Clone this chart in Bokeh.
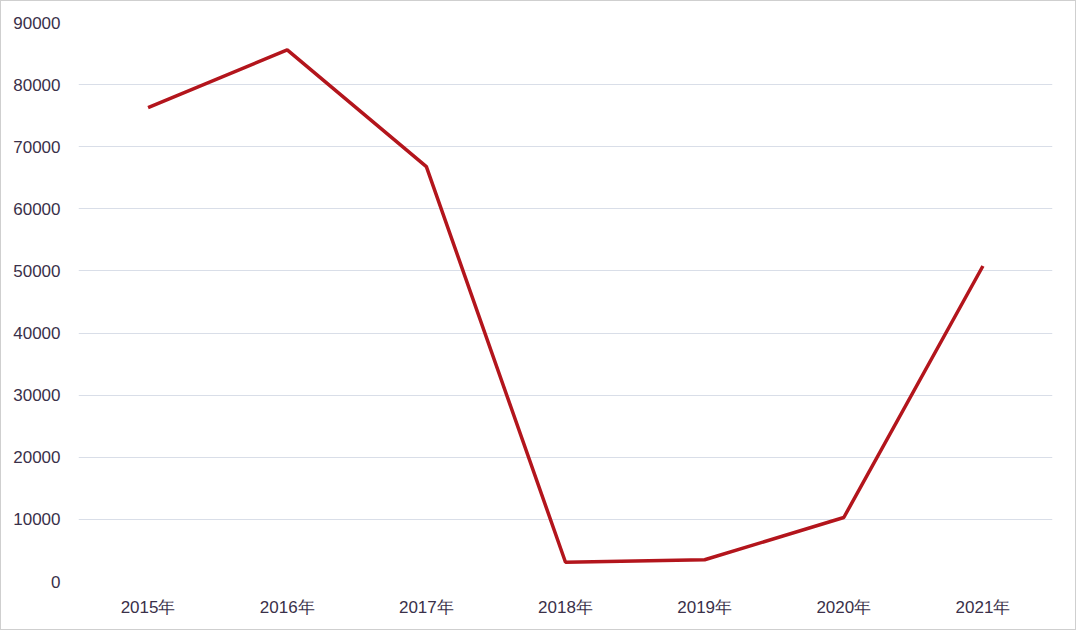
from bokeh.plotting import figure
from bokeh.models import FactorRange, Range1d, ColumnDataSource, SingleIntervalTicker
from bokeh.embed import file_html
from bokeh.resources import INLINE

years = ["2015年", "2016年", "2017年", "2018年", "2019年", "2020年", "2021年"]
values = [76300, 85600, 66800, 3100, 3500, 10300, 50800]

src = ColumnDataSource(dict(x=years, y=values))

p = figure(width=1076, height=630, output_backend="svg", toolbar_location=None,
           x_range=FactorRange(*years, range_padding=0), y_range=Range1d(0, 90000),
           min_border_left=77, min_border_right=25, min_border_top=21, min_border_bottom=50)
p.line("x", "y", source=src, line_color="#b3151c", line_width=3.5)

p.background_fill_color = "white"
p.border_fill_color = "white"
p.outline_line_color = None
p.styles = {"border": "1px solid #cfcfcf"}

p.xgrid.grid_line_color = None
p.ygrid.grid_line_color = "#d9dee8"
p.ygrid.grid_line_width = 1

p.yaxis.ticker = SingleIntervalTicker(interval=10000)
for ax in (p.xaxis[0], p.yaxis[0]):
    ax.axis_line_color = None
    ax.major_tick_line_color = None
    ax.minor_tick_line_color = None
    ax.major_label_text_font = "Liberation Sans"
    ax.major_label_text_font_size = "17px"
    ax.major_label_text_color = "#3a3049"
p.yaxis.major_label_standoff = 12
p.xaxis.major_label_standoff = 10
p.yaxis.formatter.use_scientific = False

open("out.html", "w").write(file_html(p, INLINE))
